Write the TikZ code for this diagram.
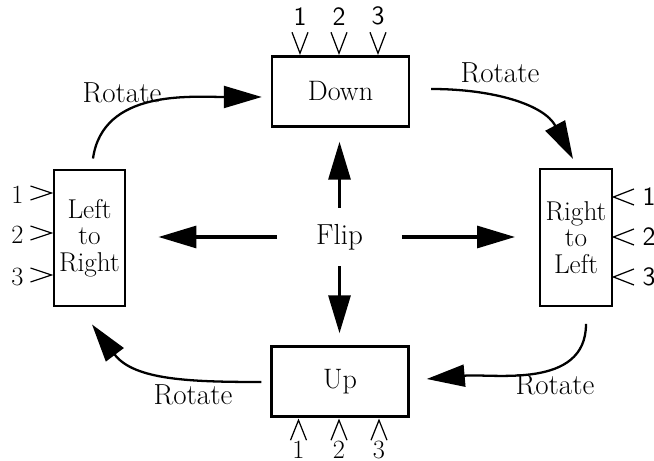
\documentclass[tikz,border=0pt]{standalone}
\usepackage{tikz}
\usetikzlibrary{arrows.meta, calc}

\begin{document}
\begin{tikzpicture}[
    font=\fontsize{16.5}{18}\selectfont,
    >={Triangle[length=0.76cm, width=0.44cm]},
    box/.style={
        draw,
        line width=1.4pt,
        align=center,
        inner sep=0pt,
        font=\fontsize{16}{18}\selectfont
    },
    widebox/.style={box, minimum width=2.74cm, minimum height=1.40cm},
    tallbox/.style={box, minimum width=1.43cm, minimum height=2.73cm,
        font=\fontsize{15.5}{15}\selectfont},
    fliparrow/.style={->, line width=1.8pt},
    rotarrow/.style={->, line width=1.3pt},
    pin/.style={line width=0.7pt},
    pinnum/.style={font=\fontsize{15}{16}\selectfont, inner sep=0pt}
]
\useasboundingbox (0,0) rectangle (13.08,9.22);

% ==================== Boxes ====================
\node[widebox] (down)  at (6.81,7.39)  {Down};
\node[widebox] (up)    at (6.80,1.59)  {Up};
\node[tallbox] (ltr)   at (1.79,4.46)  {Left\\to\\Right};
\node[tallbox] (rtl)   at (11.52,4.47) {Right\\to\\Left};

% ==================== Flip ====================
\node[minimum width=2.48cm, minimum height=1.16cm, inner sep=0pt] (flip) at (6.79,4.48) {Flip};

\draw[fliparrow, shorten >=0.28cm] (flip.north) -- (flip.north |- down.south);
\draw[fliparrow, shorten >=0.24cm] (flip.south) -- (flip.south |- up.north);
\draw[fliparrow, shorten >=0.64cm] (flip.west)  -- (flip.west -| ltr.east);
\draw[fliparrow, shorten >=0.48cm] (flip.east)  -- (flip.east -| rtl.west);

% ==================== Rotate ====================
\draw[rotarrow] ([xshift=0.07cm, yshift=0.20cm]ltr.north)
    to[out=82, in=180] ([xshift=-0.18cm, yshift=-0.11cm]down.west);
\draw[rotarrow] ([xshift=0.42cm, yshift=0.05cm]down.east)
    to[out=0, in=118] ([xshift=-0.06cm, yshift=0.18cm]rtl.north);
\draw[rotarrow] ([xshift=0.20cm, yshift=-0.34cm]rtl.south)
    to[out=-90, in=5] ([xshift=0.34cm, yshift=0.05cm]up.east);
\draw[rotarrow] ([xshift=-0.18cm, yshift=-0.01cm]up.west)
    to[out=180, in=-53] ([xshift=0.05cm, yshift=-0.34cm]ltr.south);

\node (rot1) at (2.44,7.36)  {Rotate};
\node (rot2) at (10.00,7.76) {Rotate};
\node (rot3) at (11.10,1.52) {Rotate};
\node (rot4) at (3.86,1.32)  {Rotate};

% ==================== Inputs ====================
\foreach \i/\d in {1/-0.81, 2/-0.03, 3/0.75} {
    \draw[pin] ($(down.north)+(\d-0.16,0.46)$) -- ($(down.north)+(\d,0.04)$)
        -- ($(down.north)+(\d+0.16,0.46)$);
    \node[pinnum, font=\fontsize{15}{16}\sffamily] (dn\i) at ($(down.north)+(\d,0.78)$) {\i};
}
\foreach \i/\d in {1/-0.83, 2/-0.02, 3/0.78} {
    \draw[pin] ($(up.south)+(\d-0.16,-0.45)$) -- ($(up.south)+(\d,-0.05)$)
        -- ($(up.south)+(\d+0.16,-0.45)$);
    \node[pinnum] (up\i) at ($(up.south)+(\d,-0.64)$) {\i};
}
\foreach \i/\d in {1/0.90, 2/0.10, 3/-0.74} {
    \draw[pin] ($(ltr.west)+(-0.44,\d+0.14)$) -- ($(ltr.west)+(-0.02,\d)$)
        -- ($(ltr.west)+(-0.44,\d-0.14)$);
    \node[pinnum] (lt\i) at ($(ltr.west)+(-0.70,\d-0.04)$) {\i};
}
\foreach \i/\d in {1/0.81, 2/0.01, 3/-0.79} {
    \draw[pin] ($(rtl.east)+(0.42,\d+0.16)$) -- ($(rtl.east)+(0.01,\d)$)
        -- ($(rtl.east)+(0.42,\d-0.16)$);
    \node[pinnum, font=\fontsize{15}{16}\sffamily] (rt\i) at ($(rtl.east)+(0.72,\d)$) {\i};
}

\end{tikzpicture}
\end{document}
